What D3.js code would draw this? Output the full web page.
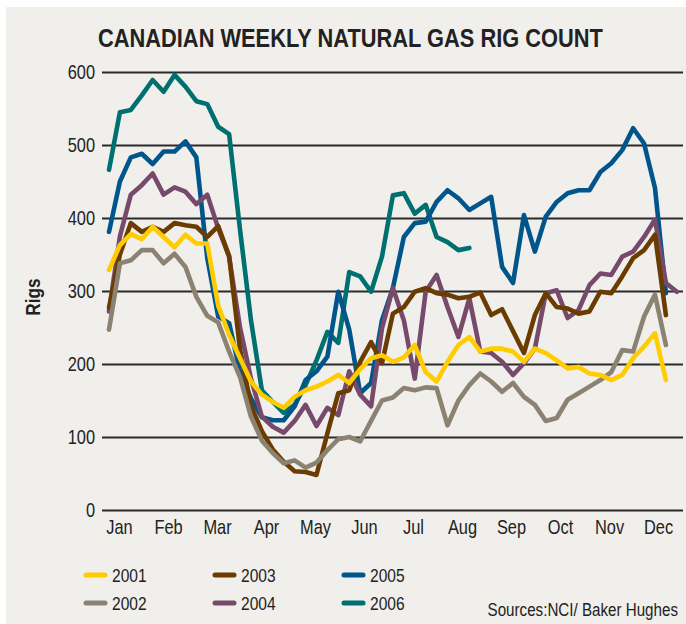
<!DOCTYPE html>
<html>
<head>
<meta charset="utf-8">
<script src="https://cdn.jsdelivr.net/npm/d3@7"></script>
<style>
  body { margin: 0; background: #fff; }
  text { font-family: "Liberation Sans", Arial, sans-serif; fill: #222; }
</style>
</head>
<body>
<div class="chart"></div>
<script>
document.addEventListener("DOMContentLoaded", drawChart)

// weekly rig counts, one value per week from the first week of January
var y2001 = [329,363,378,371,388,374,360,377,365,365,280,240,208,176,158,148,140,155,164,169,176,185,174,193,208,212,203,209,226,189,176,203,226,237,217,221,221,217,203,221,215,205,194,196,187,185,178,185,208,224,242,178]
var y2002 = [247,338,342,356,356,338,351,333,292,266,257,217,182,128,95,78,64,68,58,65,82,97,100,94,122,150,154,167,164,168,167,116,150,171,187,176,162,174,155,144,122,126,151,160,169,178,189,219,217,265,295,226]
var y2003 = [277,350,393,381,388,381,393,390,388,374,389,348,220,143,108,83,66,53,52,48,105,160,164,203,230,201,269,278,299,304,297,295,290,292,298,267,275,245,215,267,297,278,276,269,272,299,297,320,345,356,377,267]
var y2004 = [272,375,432,445,461,432,442,436,419,432,386,347,250,180,128,114,106,122,144,115,140,130,190,158,142,249,304,260,180,299,322,278,237,290,217,215,203,185,201,221,297,301,263,274,308,324,322,347,354,374,398,311,299]
var y2005 = [381,450,483,488,474,491,491,505,483,345,265,256,189,153,127,123,123,142,178,190,210,299,247,160,174,260,304,374,393,395,422,438,427,411,420,429,333,311,404,354,402,422,434,438,438,463,475,493,523,502,441,297]
var y2006 = [466,545,548,568,589,573,596,580,560,556,525,515,384,260,164,148,133,144,171,205,244,229,326,320,299,347,431,434,406,418,374,367,356,359]

var years = ["2001", "2002", "2003", "2004", "2005", "2006"]
var colors = ["#ffcc00", "#8c8272", "#6b3c02", "#774a6c", "#00558b", "#006f6f"]
var months = ["Jan", "Feb", "Mar", "Apr", "May", "Jun", "Jul", "Aug", "Sep", "Oct", "Nov", "Dec"]
var yTicks = [0, 100, 200, 300, 400, 500, 600]

function drawChart() {
  var width = 686,
    height = 624;

  var series = [y2001, y2002, y2003, y2004, y2005, y2006].map(function (vals, i) {
    return { year: years[i], color: colors[i], values: vals }
  })

  var svg = d3.select(".chart").append("svg")
    .attr("width", width)
    .attr("height", height)

  svg.append("rect")
    .attr("x", 6).attr("y", 7)
    .attr("width", width - 6).attr("height", height - 7)
    .attr("fill", "#f0efeb")

  svg.append("text")
    .attr("class", "title")
    .attr("x", 98).attr("y", 47)
    .style("font-size", "26px")
    .style("font-weight", "bold")
    .text("CANADIAN WEEKLY NATURAL GAS RIG COUNT")

  var xScale = d3.scaleLinear().domain([0, 51]).range([109, 665.9]),
    yScale = d3.scaleLinear().domain([0, 600]).range([510, 72]),
    monthScale = d3.scalePoint().domain(months).range([119, 658])

  // grid lines double as the y axis ticks
  var yAxis = svg.append("g")
    .attr("transform", "translate(102,0)")
    .call(d3.axisLeft(yScale).tickValues(yTicks).tickSize(-581).tickPadding(7))
  yAxis.select(".domain").remove()
  yAxis.selectAll("line").attr("stroke", "#2a2a2a").attr("stroke-width", 2.2)
  yAxis.selectAll("text").style("font-size", "20px").attr("fill", "#222")

  var xAxis = svg.append("g")
    .attr("transform", "translate(0,516)")
    .call(d3.axisBottom(monthScale).tickSize(0).tickPadding(4))
  xAxis.select(".domain").remove()
  xAxis.selectAll("text").style("font-size", "20px").attr("fill", "#222")

  svg.append("g")
    .attr("transform", "translate(40,297) rotate(-90)")
    .append("text")
    .attr("text-anchor", "middle")
    .style("font-size", "21px")
    .style("font-weight", "bold")
    .text("Rigs")

  var line = d3.line()
    .x(function (d, i) { return xScale(i) })
    .y(function (d) { return yScale(d) })

  svg.append("g")
    .selectAll("path")
    .data(series.slice().reverse())
    .enter().append("path")
    .attr("d", function (d) { return line(d.values) })
    .attr("fill", "none")
    .attr("stroke", function (d) { return d.color })
    .attr("stroke-width", 4.6)
    .attr("stroke-linejoin", "round")
    .attr("stroke-linecap", "round")

  var legend = svg.append("g")
    .selectAll("g")
    .data(series)
    .enter().append("g")
    .attr("transform", function (d, i) {
      var col = Math.floor(i / 2), row = i % 2
      return "translate(" + [86 + col * 129, 575 + row * 28] + ")"
    })

  legend.append("line")
    .attr("x1", 0).attr("x2", 19)
    .attr("stroke", function (d) { return d.color })
    .attr("stroke-width", 5)
    .attr("stroke-linecap", "round")

  legend.append("text")
    .attr("x", 26).attr("y", 7)
    .style("font-size", "19px")
    .text(function (d) { return d.year })

  svg.append("text")
    .attr("x", 678).attr("y", 616)
    .attr("text-anchor", "end")
    .style("font-size", "18.5px")
    .text("Sources:NCI/ Baker Hughes")

  // the original uses a condensed face: squeeze every label horizontally around its anchor
  svg.selectAll("text").each(function () {
    var el = d3.select(this)
    var k = el.classed("title") ? 505 / this.getComputedTextLength() : 0.82
    var x = +el.attr("x") || 0
    el.attr("transform", "translate(" + x + ",0) scale(" + k + ",1) translate(" + (-x) + ",0)")
  })
}
</script>
</body>
</html>
